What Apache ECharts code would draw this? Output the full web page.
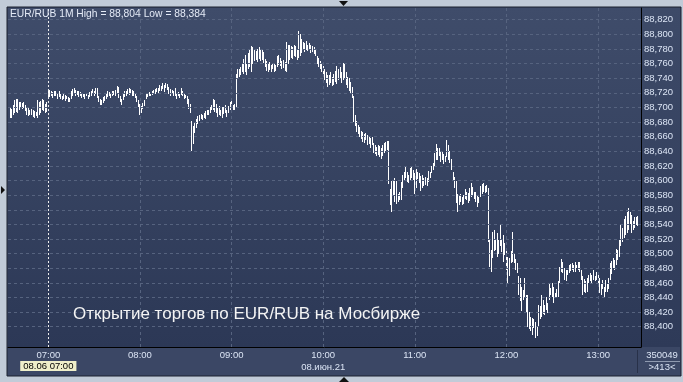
<!DOCTYPE html>
<html><head><meta charset="utf-8">
<script src="https://cdn.jsdelivr.net/npm/echarts@6/dist/echarts.min.js"></script>
<style>html,body{margin:0;padding:0;background:#c1cbd8;}#c{width:683px;height:382px;}</style>
</head><body><div id="c"></div>
<script>
// ---- data ----
const startMinute = 395;          // first bar 06:35, one bar per minute
const sessionStart = 420;         // 07:00
const hourTicks = [420, 480, 540, 600, 660, 720, 780];
const priceTicks = [88.40,88.42,88.44,88.46,88.48,88.50,88.52,88.54,88.56,88.58,88.60,88.62,88.64,88.66,88.68,88.70,88.72,88.74,88.76,88.78,88.80,88.82];
const lastPrice = 88.546;
const titleText = 'EUR/RUB 1M High = 88,804 Low = 88,384';
const noteText = 'Открытие торгов по EUR/RUB на Мосбирже';
const dateLabel = '08.июн.21';
const cursorLabel = '08.06 07:00';
const volumeText = '350049';
const countText = '>413<';

const lows = [
88.686,88.685,88.690,88.693,88.694,88.692,88.697,88.699,88.698,88.699,
88.695,88.690,88.688,88.690,88.689,88.687,88.686,88.688,88.686,88.689,
88.693,88.696,88.695,88.692,88.694,
88.712,88.714,88.716,88.713,88.715,88.716,88.712,88.714,88.711,88.710,
88.712,88.709,88.711,88.708,88.707,88.712,88.716,88.718,88.715,88.717,
88.714,88.716,88.713,88.714,88.712,88.715,88.711,88.714,88.716,88.718,
88.715,88.719,88.713,88.707,88.703,88.704,88.706,88.709,88.712,88.714,
88.716,88.713,88.716,88.717,88.715,88.718,88.713,88.707,88.704,88.710,
88.714,88.716,88.718,88.717,88.719,88.716,88.715,88.713,88.707,88.700,
88.690,88.693,88.698,88.702,88.712,88.714,88.716,88.715,88.717,88.719,
88.718,88.721,88.720,88.723,88.722,88.725,88.721,88.726,88.724,88.719,
88.716,88.718,88.715,88.716,88.712,88.715,88.713,88.717,88.715,88.711,
88.713,88.705,88.698,88.692,88.640,88.650,88.665,88.672,88.677,88.681,
88.684,88.683,88.685,88.684,88.689,88.690,88.692,88.696,88.697,88.694,
88.693,88.687,88.690,88.688,88.686,88.691,88.693,88.687,88.692,88.697,
88.699,88.696,88.697,88.699,
88.740,88.742,88.744,88.748,88.746,88.749,88.744,88.752,88.755,88.749,
88.760,88.764,88.765,88.762,88.766,88.763,88.765,88.761,88.755,88.750,
88.748,88.751,88.749,88.752,88.748,88.750,88.755,88.758,88.756,88.752,
88.754,88.750,88.748,88.760,88.765,88.768,88.766,88.770,88.769,88.765,
88.768,88.770,88.775,88.778,88.776,88.779,88.777,88.778,88.775,88.776,
88.773,88.770,88.760,88.755,88.752,88.748,88.744,88.738,88.734,88.728,
88.730,88.733,88.729,88.731,88.735,88.732,88.737,88.740,88.733,88.738,
88.740,88.730,88.726,88.722,88.720,88.713,88.680,
88.675,88.667,88.664,88.660,88.657,88.653,88.652,88.655,88.648,88.650,
88.645,88.648,88.638,88.636,88.634,88.635,88.632,88.630,88.634,88.638,
88.640,88.642,88.595,
88.566,88.557,88.580,88.570,88.568,88.571,88.573,88.574,88.590,88.600,
88.604,88.598,88.596,88.600,88.603,88.601,88.582,88.590,88.602,88.596,
88.586,88.590,88.592,88.594,88.593,88.598,88.603,88.610,88.614,88.620,
88.628,88.628,88.634,88.625,88.628,88.622,88.625,88.632,88.628,88.624,
88.614,88.600,88.590,88.569,88.557,88.566,88.571,88.566,88.568,88.575,
88.573,88.569,88.572,88.578,88.580,88.575,88.571,88.564,88.569,88.578,
88.582,88.585,88.583,88.585,88.516,
88.482,88.475,88.494,88.503,88.505,88.496,88.500,88.510,88.502,
88.489,88.498,88.478,88.460,88.469,88.487,88.489,88.487,88.478,
88.473,88.444,88.435,88.421,88.437,88.439,88.419,88.400,88.397,
88.394,88.389,88.398,88.384,88.387,88.400,88.410,88.414,88.418,
88.416,88.423,88.419,88.437,88.444,88.441,88.432,88.439,88.440,
88.441,88.460,88.475,88.473,88.464,88.462,88.471,88.473,88.476,
88.478,88.475,88.475,88.480,88.478,88.475,88.464,88.444,88.448,
88.446,88.448,88.460,88.462,88.460,88.464,88.462,88.464,88.458,
88.446,88.444,88.451,88.441,88.448,88.448,88.451,88.464,88.472,
88.480,88.478,88.485,88.491,88.496,88.510,88.516,88.521,88.525,
88.528,88.532,88.541,88.528,88.532,88.535,88.539,88.538
];
const highs = [
88.700,88.698,88.703,88.710,88.712,88.711,88.707,88.708,88.706,88.707,
88.704,88.700,88.699,88.697,88.698,88.697,88.695,88.694,88.710,88.707,
88.709,88.712,88.710,88.705,88.708,
88.725,88.724,88.722,88.721,88.723,88.722,88.720,88.722,88.718,88.716,
88.719,88.717,88.716,88.714,88.713,88.722,88.725,88.726,88.724,88.723,
88.722,88.721,88.719,88.718,88.719,88.719,88.717,88.721,88.723,88.725,
88.723,88.726,88.727,88.716,88.712,88.710,88.714,88.716,88.718,88.722,
88.721,88.720,88.723,88.722,88.724,88.729,88.728,88.716,88.712,88.718,
88.722,88.723,88.725,88.726,88.725,88.724,88.722,88.720,88.716,88.710,
88.705,88.702,88.706,88.710,88.719,88.720,88.721,88.719,88.722,88.724,
88.725,88.727,88.726,88.730,88.729,88.734,88.731,88.733,88.732,88.728,
88.725,88.724,88.722,88.727,88.720,88.721,88.719,88.726,88.723,88.718,
88.717,88.716,88.712,88.705,88.682,88.675,88.679,88.684,88.688,88.690,
88.691,88.689,88.692,88.695,88.697,88.696,88.700,88.703,88.712,88.710,
88.705,88.699,88.702,88.697,88.700,88.701,88.703,88.696,88.702,88.707,
88.710,88.704,88.705,88.746,
88.753,88.752,88.755,88.760,88.766,88.772,88.760,88.775,88.780,88.784,
88.782,88.779,88.777,88.780,88.782,88.778,88.779,88.776,88.766,88.763,
88.760,88.762,88.758,88.761,88.760,88.758,88.770,88.772,88.768,88.764,
88.765,88.762,88.790,88.785,88.786,88.784,88.783,88.786,88.784,88.779,
88.804,88.800,88.793,88.790,88.788,88.791,88.786,88.788,88.786,88.784,
88.783,88.780,88.771,88.768,88.763,88.760,88.756,88.752,88.748,88.744,
88.745,88.749,88.742,88.746,88.750,88.756,88.752,88.755,88.748,88.761,
88.760,88.748,88.742,88.740,88.735,88.728,88.716,
88.690,88.681,88.676,88.673,88.668,88.666,88.663,88.665,88.662,88.660,
88.658,88.660,88.652,88.648,88.646,88.648,88.647,88.645,88.649,88.652,
88.653,88.654,88.654,
88.589,88.600,88.601,88.603,88.600,88.582,88.585,88.598,88.608,88.612,
88.619,88.612,88.608,88.617,88.619,88.615,88.610,88.616,88.612,88.610,
88.606,88.608,88.604,88.605,88.603,88.613,88.612,88.620,88.624,88.637,
88.650,88.645,88.644,88.641,88.640,88.636,88.634,88.655,88.648,88.640,
88.630,88.612,88.605,88.600,88.582,88.580,88.582,88.578,88.580,88.589,
88.585,88.583,88.590,88.596,88.591,88.585,88.585,88.580,88.578,88.593,
88.595,88.596,88.593,88.594,88.590,
88.519,88.505,88.530,88.532,88.519,88.528,88.519,88.539,88.520,
88.525,88.514,88.505,88.496,88.494,88.503,88.529,88.500,88.492,
88.487,88.469,88.466,88.455,88.450,88.466,88.444,88.444,88.420,
88.414,88.412,88.410,88.407,88.400,88.430,88.428,88.444,88.436,
88.430,88.441,88.432,88.460,88.453,88.460,88.455,88.446,88.452,
88.462,88.482,88.492,88.489,88.480,88.478,88.478,88.485,88.486,
88.487,88.485,88.489,88.485,88.489,88.489,88.478,88.469,88.465,
88.462,88.466,88.471,88.473,88.471,88.478,88.469,88.475,88.472,
88.466,88.458,88.464,88.455,88.464,88.458,88.466,88.487,88.490,
88.494,88.491,88.507,88.505,88.519,88.541,88.535,88.548,88.552,
88.557,88.562,88.557,88.553,88.544,88.550,88.550,88.552
];

// ---- chart ----
const bars = lows.map((lo, i) => [startMinute + i, lo, highs[i]]);
const fmtPrice = v => v.toFixed(3).replace('.', ',');
const pad2 = n => String(n).padStart(2, '0');
const fmtHour = v => pad2(Math.floor(v / 60)) + ':' + pad2(v % 60);
const FONT = 'Liberation Sans';
const labelColor = '#dbe4f4';
const gridLine = {color: '#56637f', type: [3, 3], width: 1};

const markData = [].concat(
  priceTicks.map(v => ({yAxis: v, lineStyle: gridLine})),
  hourTicks.filter(h => h !== sessionStart).map(h => ({xAxis: h, lineStyle: gridLine})),
  [{xAxis: sessionStart, lineStyle: {color: '#eeeeee', type: [2, 2], width: 1}}],
  [{yAxis: lastPrice, lineStyle: {opacity: 0},
    label: {show: true, position: 'end', distance: 2, formatter: fmtPrice(lastPrice),
      color: '#000', backgroundColor: '#c9ced6', padding: [2, 3, 1, 3],
      fontSize: 9.5, fontFamily: FONT}}]
);

const chart = echarts.init(document.getElementById('c'), null, {width: 683, height: 382});
chart.setOption({
  animation: false,
  title: [
    {text: titleText, left: 10, top: 9, padding: 0,
     textStyle: {color: '#e4eaf6', fontSize: 10.3, fontWeight: 'normal', fontFamily: FONT}},
    {text: noteText, left: 73, top: 306, padding: 0,
     textStyle: {color: '#f4f4f4', fontSize: 17, fontWeight: 'normal', fontFamily: FONT}}
  ],
  grid: {left: 8, right: 42, top: 8, bottom: 35},
  xAxis: {
    type: 'value', min: 393.6, max: 808.1,
    axisLine: {show: true, onZero: false, lineStyle: {color: '#000', width: 1}},
    axisTick: {show: false}, splitLine: {show: false},
    axisLabel: {
      customValues: hourTicks, margin: 2, color: labelColor, fontSize: 9.5,
      fontFamily: FONT, lineHeight: 12.5,
      formatter: v => v === sessionStart ? fmtHour(v) + '\n{box|' + cursorLabel + '}'
                : (v === 600 ? fmtHour(v) + '\n' + dateLabel : fmtHour(v)),
      rich: {box: {backgroundColor: '#efefca', color: '#000', padding: [0, 3],
                   fontSize: 9.5, fontFamily: FONT, lineHeight: 9}}
    }
  },
  yAxis: {
    type: 'value', position: 'right', min: 88.3723, max: 88.836,
    axisLine: {show: true, onZero: false, lineStyle: {color: '#000', width: 1}},
    axisTick: {show: false}, splitLine: {show: false},
    axisLabel: {customValues: priceTicks, margin: 3, color: labelColor, fontSize: 9.5,
      fontFamily: FONT, formatter: v => fmtPrice(v)}
  },
  series: [{
    type: 'custom',
    data: bars,
    encode: {x: 0, y: [1, 2]},
    renderItem: function (params, api) {
      const x = api.value(0);
      const top = api.coord([x, api.value(2)]);
      const bot = api.coord([x, api.value(1)]);
      const px = Math.floor(top[0]);
      const y0 = Math.round(top[1]);
      return {type: 'rect',
        shape: {x: px, y: y0, width: 1, height: Math.max(2, Math.round(bot[1]) - y0)},
        style: {fill: '#ffffff'}};
    },
    markLine: {silent: true, symbol: ['none', 'none'], label: {show: false},
      animation: false, data: markData}
  }],
  graphic: [
    {type: 'rect', z: -30, shape: {x: 7, y: 7, width: 674, height: 369},
     style: {fill: '#3b4765', stroke: '#1c2230', lineWidth: 1}},
    {type: 'rect', z: -29, shape: {x: 8, y: 8, width: 633, height: 339},
     style: {fill: new echarts.graphic.LinearGradient(0, 0, 0, 1,
       [{offset: 0, color: '#3f4c6a'}, {offset: 1, color: '#2c3856'}])}},
    {type: 'rect', z: -29, shape: {x: 641, y: 8, width: 39, height: 339},
     style: {fill: new echarts.graphic.LinearGradient(0, 0, 0, 1,
       [{offset: 0, color: '#3d4a68'}, {offset: 1, color: '#2e3a58'}])}},
    {type: 'line', z: 5, shape: {x1: 637.5, y1: 350, x2: 637.5, y2: 373},
     style: {stroke: '#283149', lineWidth: 1}},
    {type: 'line', z: 5, shape: {x1: 645, y1: 361.5, x2: 680, y2: 361.5},
     style: {stroke: '#8f9ab0', lineWidth: 1}},
    {type: 'text', z: 5, x: 662, y: 355,
     style: {text: volumeText, fill: labelColor, font: '9.5px "Liberation Sans"', align: 'center', verticalAlign: 'middle'}},
    {type: 'text', z: 5, x: 662, y: 367.5,
     style: {text: countText, fill: labelColor, font: '9.5px "Liberation Sans"', align: 'center', verticalAlign: 'middle'}},
    {type: 'polygon', z: 5, shape: {points: [[339, 1], [348, 1], [343.5, 6]]}, style: {fill: '#111'}},
    {type: 'polygon', z: 5, shape: {points: [[339, 382], [349, 382], [344, 377]]}, style: {fill: '#111'}},
    {type: 'polygon', z: 5, shape: {points: [[1, 186], [1, 194], [5, 190]]}, style: {fill: '#111'}}
  ]
});
</script>
</body></html>
